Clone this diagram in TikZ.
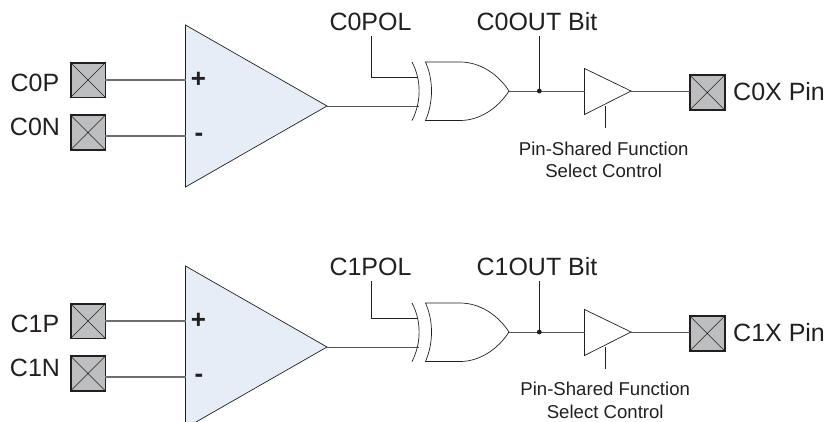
\documentclass[tikz,border=0pt]{standalone}
\usepackage{fontspec}
\setmainfont{Liberation Sans}
\definecolor{padfill}{HTML}{BCBEC0}
\definecolor{ampfill}{HTML}{E6EDF6}
\definecolor{inkc}{HTML}{231F20}
\definecolor{wirec}{HTML}{555555}
\definecolor{padwire}{HTML}{6E6E6E}
\tikzset{
  pad/.style={rectangle,draw=inkc,line width=1.8pt,fill=padfill,minimum size=34.8pt,inner sep=0pt,outer sep=0pt,
    path picture={\draw[inkc,line width=.6pt] (path picture bounding box.north west)--(path picture bounding box.south east)
      (path picture bounding box.north east)--(path picture bounding box.south west);}},
  gateline/.style={draw=inkc,line width=.7pt},
  wire/.style={draw=wirec,line width=1pt},
  inwire/.style={draw=padwire,line width=1.3pt},
  biglabel/.style={font=\fontsize{25}{28}\selectfont,text=inkc,inner sep=0pt,anchor=base},
  smalllabel/.style={font=\fontsize{18.6}{22}\selectfont,text=inkc,inner sep=0pt,anchor=base},
  signlabel/.style={font=\bfseries\fontsize{26}{28}\selectfont,text=inkc,inner sep=0pt,anchor=base}
}
\newcommand{\CompRow}[5]{% index, dy, label dy, pin label dx, pin label dy
  % amplifier
  \coordinate (a#1) at (185.5,25+#2);
  \coordinate (b#1) at (185.5,187+#2);
  \coordinate (o#1) at (327,106+#2);
  \path[gateline,fill=ampfill] (a#1)--(o#1)--(b#1)--cycle;
  \node[signlabel] (plus#1) at (198.5,87.5+#2-.5) {+};
  \node[signlabel] (minus#1) at (199,141.8+#2) {-};
  % input pads
  \node[pad] (padp#1) at (88,80+#2) {};
  \node[pad] (padn#1) at (88,132.5+#2) {};
  \node[biglabel] (lp#1) at (35,91.7+#2) {C#1P};
  \node[biglabel] (ln#1) at (35,135+#2) {C#1N};
  \coordinate (ip#1) at (185.5,80+#2);
  \coordinate (in#1) at (185.5,136+#2);
  \draw[inwire] (padp#1.east)--(ip#1);
  \draw[inwire] (padn#1.east |- in#1)--(in#1);
  % polarity stage
  \coordinate (at#1) at (412,62+#2);
  \coordinate (ab#1) at (412,120.5+#2);
  \coordinate (m1#1) at (418.5,106+#2);
  \coordinate (m2#1) at (418,77.3+#2);
  \draw[wire] (o#1)--(m1#1);
  \node[biglabel] (pol#1) at (370.5,30.7+#3) {C#1POL};
  \coordinate (ps#1) at (371,36+#3);
  \draw[gateline] (ps#1)--(371,77.3+#2)--(m2#1);
  \draw[gateline] (at#1) .. controls (421.5,80+#2) and (421.5,102+#2) .. (ab#1);
  % xor gate
  \coordinate (xo#1) at (509,91+#2);
  \path[gateline,fill=white] (425.5,62+#2)--(460,62+#2) .. controls (480,62+#2) and (498,74+#2) .. (xo#1)
     .. controls (498,108+#2) and (480,120.5+#2) .. (460,120.5+#2)--(425.5,120.5+#2)
     .. controls (433.5,102+#2) and (433.5,80+#2) .. (425.5,62+#2)--cycle;
  % output buffer and pad
  \coordinate (ba#1) at (584.5,68.5+#2);
  \coordinate (bb#1) at (584.5,114.5+#2);
  \coordinate (bo#1) at (631,91+#2);
  \coordinate (bi#1) at (584.5,91+#2);
  \path[gateline,fill=white] (ba#1)--(bo#1)--(bb#1)--cycle;
  \coordinate (dot#1) at (539.3,91+#2);
  \draw[wire] (xo#1)--(bi#1);
  \fill[inkc] (dot#1) circle (2.4pt);
  \coordinate (bs#1) at (539.3,36+#3);
  \draw[gateline] (bs#1)--(dot#1);
  \node[biglabel] (bit#1) at (537,30.7+#3) {C#1OUT Bit};
  \node[pad] (padx#1) at (707.3,92.5+#2) {};
  \draw[wire] (bo#1)--(padx#1.west |- bo#1);
  \node[biglabel,anchor=base west] (lx#1) at (733,100+#2) {C#1X Pin};
  % select control
  \coordinate (cs#1) at (605.5,106+#2);
  \coordinate (ce#1) at (605.5,128+#2);
  \draw[gateline] (cs#1)--(ce#1);
  \node[smalllabel] (pa#1) at (603.7+#4,155+#5) {Pin-Shared Function};
  \node[smalllabel] (pb#1) at (603.7+#4,177.7+#5) {Select Control};
}
\begin{document}
\begin{tikzpicture}[x=1pt,y=-1pt]
\useasboundingbox (0,0) rectangle (826,421);
\clip (0,0) rectangle (826,421);
\CompRow{0}{0}{0}{0}{0}
\CompRow{1}{241}{245}{1.5}{240.5}
\end{tikzpicture}
\end{document}
